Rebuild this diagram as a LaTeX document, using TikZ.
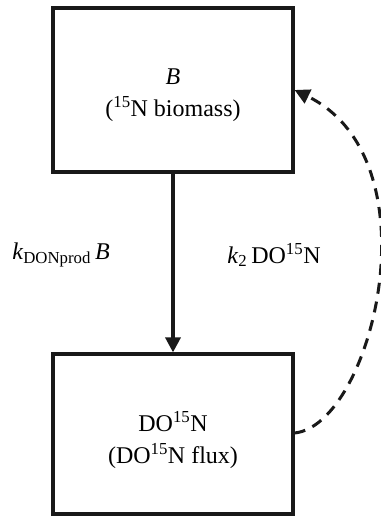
\documentclass[tikz,border=0pt]{standalone}
\usepackage{fontspec}
\setmainfont{Liberation Serif}
\usetikzlibrary{arrows.meta}
\begin{document}
\begin{tikzpicture}[x=1pt,y=-1pt,
    pool/.style={draw=black!90, line width=3.2pt, minimum width=240pt,
      inner sep=0pt},
    lbl/.style={font=\fontsize{24}{32}\selectfont, inner sep=0pt, align=center},
    flow/.style={line width=3.4pt, draw=black!90,
      -{Triangle[length=15pt,width=15pt]}},
    back/.style={flow, line width=3pt, dash pattern=on 11pt off 8pt}]
  \useasboundingbox (0,0) rectangle (380,516);
  % biomass pool and dissolved organic N pool
  \node[pool, minimum height=164pt] (bio) at (173,90) {};
  \node[pool, minimum height=160pt] (don) at (173,434) {};
  \node[lbl] (biotext) at (173,95) {\textit{B}\\(\textsuperscript{15}N biomass)};
  \node[lbl] (dontext) at (173,440) {DO\textsuperscript{15}N\\(DO\textsuperscript{15}N flux)};
  % transfer rates
  \node[lbl] (kprod) at (61,255) {\textit{k}\textsubscript{DONprod}\,\textit{B}};
  \node[lbl] (ktwo) at (274,255) {\textit{k}\textsubscript{2}\,DO\textsuperscript{15}N};
  % production and return fluxes
  \draw[flow] (bio.south) -- (don.north);
  \draw[back] ([yshift=1pt]don.east) .. controls (372,425) and (438,160) .. (bio.east);
\end{tikzpicture}
\end{document}
